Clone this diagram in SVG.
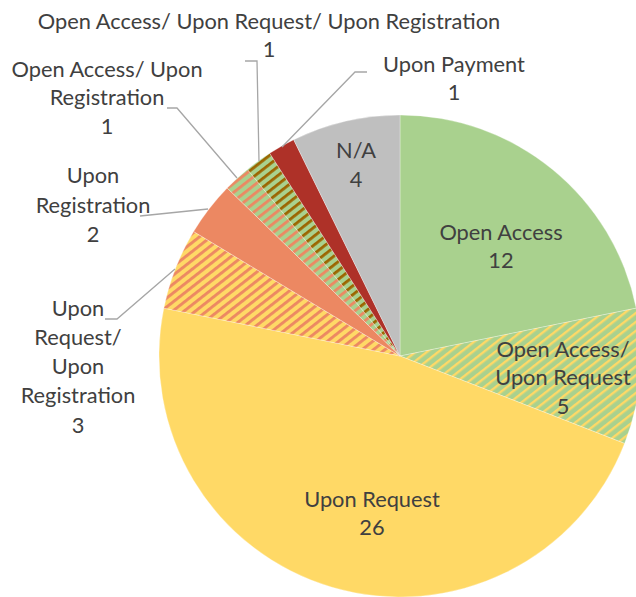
<svg xmlns="http://www.w3.org/2000/svg" width="636" height="597" viewBox="0 0 636 597">
<style>
.lbl{font-family:Lato,"Liberation Sans",sans-serif;font-size:21.8px;fill:#404040;text-anchor:middle}
.lead{fill:none;stroke:#A6A6A6;stroke-width:1.3}
.sl{stroke:#FFFFFF;stroke-width:0.5;stroke-opacity:0.6}
</style>
<defs>
<pattern id="pGY" patternUnits="userSpaceOnUse" width="7" height="7" patternTransform="rotate(52)">
<rect width="7" height="7" fill="#A9D18E"/><rect width="2.4" height="7" fill="#FFD966"/>
</pattern>
<pattern id="pYS" patternUnits="userSpaceOnUse" width="7" height="7" patternTransform="rotate(52)">
<rect width="7" height="7" fill="#FFD966"/><rect width="2.9" height="7" fill="#EC8862"/>
</pattern>
<pattern id="pGS" patternUnits="userSpaceOnUse" width="7" height="7" patternTransform="rotate(52)">
<rect width="7" height="7" fill="#A9D18E"/><rect width="2.8" height="7" fill="#EC8862"/>
</pattern>
<pattern id="pGB" patternUnits="userSpaceOnUse" width="7" height="7" patternTransform="rotate(52)">
<rect width="7" height="7" fill="#A9D18E"/><rect width="2.8" height="7" fill="#9C6500"/>
</pattern>
</defs>
<g id="pie">
<path id="s-open-access" class="sl" fill="#A9D18E" d="M400,356 L400,115 A241,241 0 0 1 636.20,308.14 Z"/>
<path id="s-oa-ur" class="sl" fill="url(#pGY)" d="M400,356 L636.20,308.14 A241,241 0 0 1 624.58,443.44 Z"/>
<path id="s-upon-request" class="sl" fill="#FFD966" d="M400,356 L624.58,443.44 A241,241 0 0 1 163.80,308.14 Z"/>
<path id="s-ur-ureg" class="sl" fill="url(#pYS)" d="M400,356 L163.80,308.14 A241,241 0 0 1 193.62,231.55 Z"/>
<path id="s-upon-registration" class="sl" fill="#EC8862" d="M400,356 L193.62,231.55 A241,241 0 0 1 227.17,188.04 Z"/>
<path id="s-oa-ureg" class="sl" fill="url(#pGS)" d="M400,356 L227.17,188.04 A241,241 0 0 1 247.44,169.43 Z"/>
<path id="s-oa-ur-ureg" class="sl" fill="url(#pGB)" d="M400,356 L247.44,169.43 A241,241 0 0 1 269.70,153.26 Z"/>
<path id="s-upon-payment" class="sl" fill="#AE3128" d="M400,356 L269.70,153.26 A241,241 0 0 1 293.67,139.73 Z"/>
<path id="s-na" class="sl" fill="#BFBFBF" d="M400,356 L293.67,139.73 A241,241 0 0 1 400,115 Z"/>
</g>
<g id="connectors">
<polyline class="lead" points="245,61 257,61 259,161"/>
<polyline class="lead" points="167,108 177,108 237,178"/>
<polyline class="lead" points="367,72 355,72 282,147"/>
<polyline class="lead" points="140,216 208,209"/>
<polyline class="lead" points="105,319 117,319 175,269"/>
</g>
<g id="label-oa-ur-ureg"><text class="lbl" x="269" y="29">Open Access/ Upon Request/ Upon Registration</text><text class="lbl" x="269" y="57">1</text></g>
<g id="label-oa-ureg"><text class="lbl" x="107" y="77">Open Access/ Upon</text><text class="lbl" x="107" y="105">Registration</text><text class="lbl" x="107" y="134">1</text></g>
<g id="label-upon-payment"><text class="lbl" x="454" y="72">Upon Payment</text><text class="lbl" x="454" y="100">1</text></g>
<g id="label-upon-registration"><text class="lbl" x="93" y="183">Upon</text><text class="lbl" x="93" y="213">Registration</text><text class="lbl" x="93" y="242">2</text></g>
<g id="label-ur-ureg"><text class="lbl" x="78" y="316">Upon</text><text class="lbl" x="78" y="345">Request/</text><text class="lbl" x="78" y="374">Upon</text><text class="lbl" x="78" y="403">Registration</text><text class="lbl" x="78" y="433">3</text></g>
<g id="label-na"><text class="lbl" x="356" y="158">N/A</text><text class="lbl" x="356" y="187">4</text></g>
<g id="label-open-access"><text class="lbl" x="501" y="240">Open Access</text><text class="lbl" x="501" y="268">12</text></g>
<g id="label-oa-ur"><text class="lbl" x="563" y="357">Open Access/</text><text class="lbl" x="563" y="385">Upon Request</text><text class="lbl" x="563" y="414">5</text></g>
<g id="label-upon-request"><text class="lbl" x="372" y="507">Upon Request</text><text class="lbl" x="372" y="535">26</text></g>
</svg>
